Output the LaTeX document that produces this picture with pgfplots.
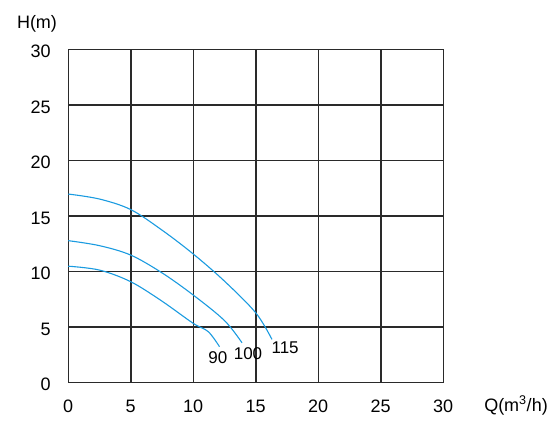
\documentclass[border=0pt]{standalone}
\usepackage{fontspec}
\setmainfont{Liberation Sans}
\usepackage{pgfplots}
\pgfplotsset{compat=1.18}
\definecolor{curve}{HTML}{1A9BE0}
\definecolor{gridc}{HTML}{2A2A2A}
\begin{document}
\begin{tikzpicture}[x=1pt,y=1pt]
\path[use as bounding box] (0,0) rectangle (558,430);
\begin{axis}[
  at={(68.25pt,47.25pt)}, anchor=south west,
  scale only axis, width=375pt, height=333pt,
  xmin=0, xmax=30, ymin=0, ymax=30,
  xtick={0,5,...,30}, ytick={0,5,...,30},
  grid=major,
  major grid style={gridc, line width=1.5pt},
  axis line style={gridc, line width=1.5pt},
  major tick length=0pt,
  tick label style={font=\fontsize{18}{21}\selectfont},
  /pgf/number format/assume math mode=true,
  yticklabel style={xshift=-14pt, yshift=-2pt},
  xticklabel style={yshift=-14pt},
  clip=false,
]
\addplot[curve, line width=1.1pt, smooth, tension=0.55] coordinates {
 (0,17.0) (2.5,16.55) (5,15.6) (7.5,13.75) (10,11.6) (12.5,9.15) (15,6.3) (16.3,3.9)};
\addplot[curve, line width=1.1pt, smooth, tension=0.55] coordinates {
 (0,12.8) (2.5,12.35) (5,11.5) (7.5,9.9) (10,7.9) (12.5,5.6) (13.9,3.6)};
\addplot[curve, line width=1.1pt, smooth, tension=0.55] coordinates {
 (0,10.5) (2.5,10.15) (5,9.1) (7.5,7.35) (10,5.35) (11.2,4.6) (12.1,3.25)};
\node[font=\fontsize{17}{20}\selectfont] at (axis cs:11.97,2.25) {90};
\node[font=\fontsize{17}{20}\selectfont] at (axis cs:14.38,2.6) {100};
\node[font=\fontsize{17}{20}\selectfont] at (axis cs:17.35,3.17) {115};
\end{axis}
\node[font=\fontsize{18}{21}\selectfont] at (37,406) {H(m)};
\node[font=\fontsize{18}{21}\selectfont] at (516,24.5) {Q(m\textsuperscript{3}/h)};
\end{tikzpicture}
\end{document}
